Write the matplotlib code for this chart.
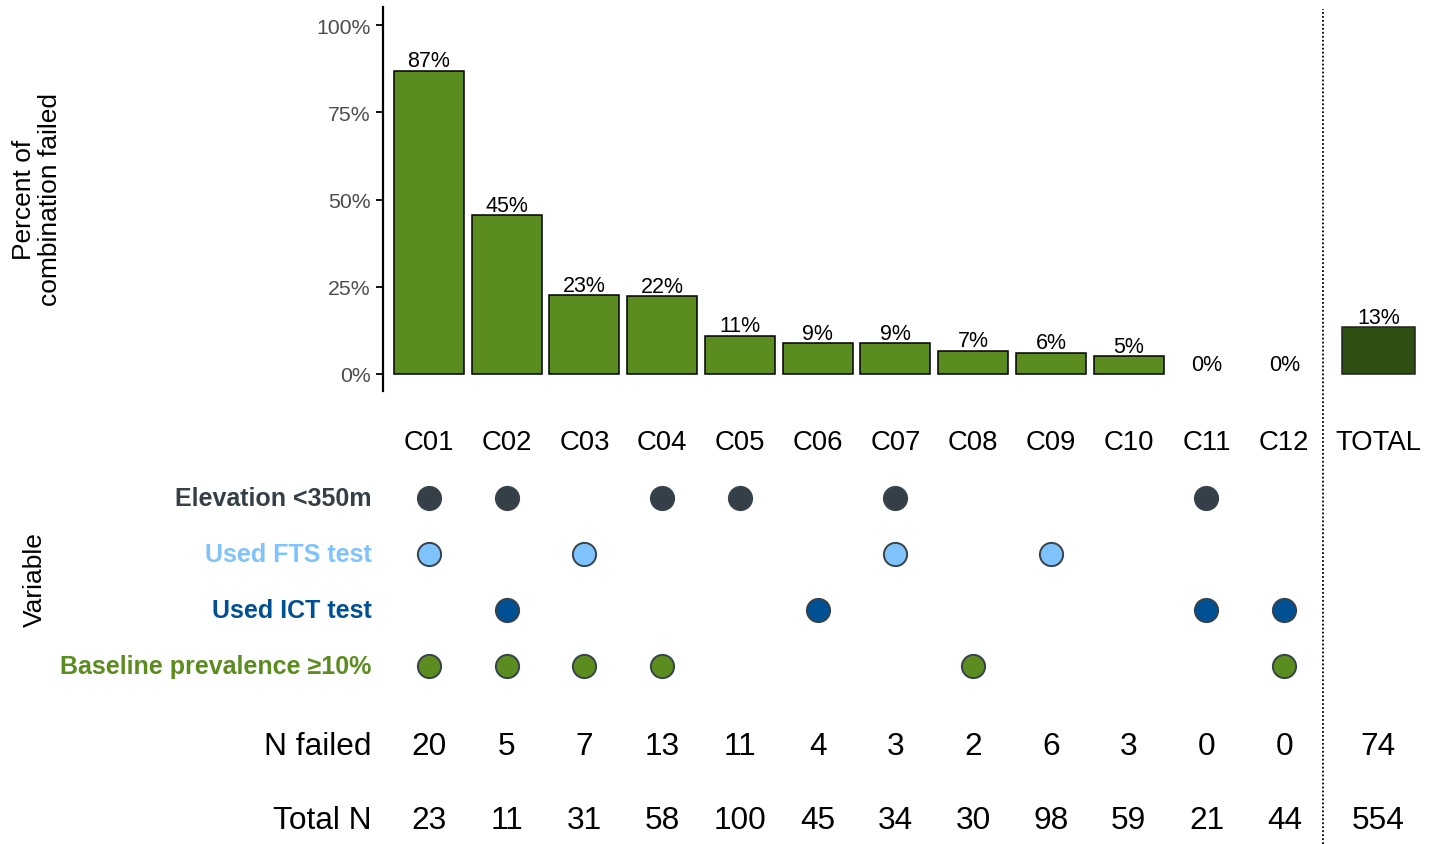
import matplotlib
matplotlib.use('Agg')
import matplotlib.pyplot as plt
from matplotlib.lines import Line2D
import matplotlib.transforms as mtransforms

plt.rcParams['font.family'] = ['Liberation Sans', 'DejaVu Sans']

# data
combos = ["C01", "C02", "C03", "C04", "C05", "C06", "C07", "C08", "C09", "C10", "C11", "C12"]
n_failed = [20, 5, 7, 13, 11, 4, 3, 2, 6, 3, 0, 0]
total_n = [23, 11, 31, 58, 100, 45, 34, 30, 98, 59, 21, 44]
total_failed = 74
total_all = 554

variables = ["Elevation <350m", "Used FTS test", "Used ICT test", "Baseline prevalence \u226510%"]
members = [
    ["C01", "C02", "C04", "C05", "C07", "C11"],
    ["C01", "C03", "C07", "C09"],
    ["C02", "C06", "C11", "C12"],
    ["C01", "C02", "C03", "C04", "C08", "C12"],
]
var_colors = ["#343F47", "#7FC3FC", "#005193", "#5B8C1F"]

pct = [100 * f / t for f, t in zip(n_failed, total_n)]
total_pct = 100 * total_failed / total_all

green = "#5B8C1F"
dark_green = "#2F4E12"

W, H = 1432, 845
fig = plt.figure(figsize=(W / 100, H / 100), dpi=100)

x = list(range(len(combos)))
x_total = 12.21
xlim = (-0.59, 12.9)

# top: bars
ax = fig.add_axes([383 / W, 1 - 392 / H, 1 - 383 / W, 384 / H])
ax.bar(x, pct, width=0.9, color=green, edgecolor="black",
       linewidth=[1.1 if p > 0 else 0 for p in pct])
ax.bar([x_total], [total_pct], width=0.93, color=dark_green, edgecolor="#222222", linewidth=1.1)
for xi, p in zip(x + [x_total], pct + [total_pct]):
    ax.annotate(f"{round(p)}%", (xi, p), xytext=(0, 7), textcoords="offset points",
                ha="center", va="center", fontsize=15.5)
ax.set_xlim(*xlim)
ax.set_ylim(-4.9, 105.2)
ax.set_yticks([0, 25, 50, 75, 100])
ax.set_yticklabels(["0%", "25%", "50%", "75%", "100%"], fontsize=15.3, color="#4D4D4D")
ax.tick_params(axis="y", length=5, width=1.3, pad=4)
ax.set_xticks([])
for s in ["top", "right", "bottom"]:
    ax.spines[s].set_visible(False)
ax.spines["left"].set_linewidth(1.6)
fig.text(37 / W, 1 - 200 / H, "Percent of\ncombination failed", rotation=90,
         ha="center", va="center", fontsize=19, linespacing=1.12)

# bottom: matrix and counts
bx = fig.add_axes([383 / W, 0, 1 - 383 / W, 1 - 400 / H])
bx.set_xlim(*xlim)
bx.set_ylim(845, 400)
bx.axis("off")

y_names = 443
y_rows = [499, 555, 611, 667]
y_fail = 747
y_tot = 821
x_lab = -0.735

for xi, c in zip(x, combos):
    bx.text(xi, y_names, c, ha="center", va="center", fontsize=19.8)
bx.text(x_total, y_names, "TOTAL", ha="center", va="center", fontsize=19.8)

for v, mem, col, yr in zip(variables, members, var_colors, y_rows):
    xs = [combos.index(m) for m in mem]
    bx.scatter(xs, [yr] * len(xs), s=280, color=col, edgecolor="#37424A", linewidth=1.4, zorder=3)
    bx.text(x_lab, yr, v, ha="right", va="center", fontsize=18, fontweight="bold", color=col)

fig.text(35 / W, 1 - 580 / H, "Variable", rotation=90, ha="center", va="center", fontsize=19)

bx.text(x_lab, y_fail, "N failed", ha="right", va="center", fontsize=22.8)
bx.text(x_lab, y_tot, "Total N", ha="right", va="center", fontsize=22.8)
for xi, f, t in zip(x + [x_total], n_failed + [total_failed], total_n + [total_all]):
    bx.text(xi, y_fail, str(f), ha="center", va="center", fontsize=22.8)
    bx.text(xi, y_tot, str(t), ha="center", va="center", fontsize=22.8)

# dotted separator across the whole figure
trans = mtransforms.blended_transform_factory(ax.transData, fig.transFigure)
fig.add_artist(Line2D([11.5, 11.5], [0, 1 - 10 / H], transform=trans,
                      color="black", linestyle=(0, (1, 1.2)), linewidth=1.3))

fig.savefig("out.png", dpi=100)
